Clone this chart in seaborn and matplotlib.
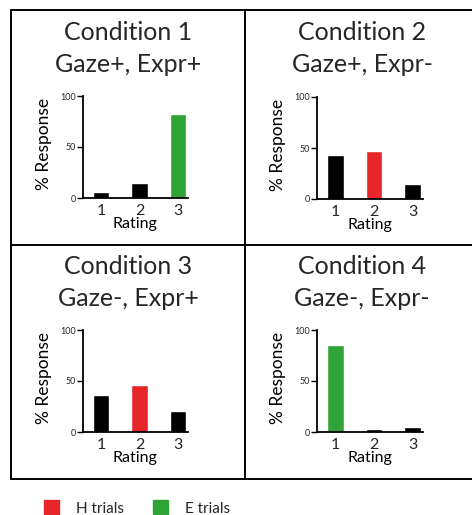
import matplotlib
matplotlib.use("Agg")
import matplotlib.pyplot as plt
import seaborn as sns
from matplotlib.patches import Patch
from matplotlib.lines import Line2D

sns.set_theme(style="white")
plt.rcParams['font.family'] = ['Lato', 'DejaVu Sans']

# data
ratings = ["1", "2", "3"]
cond_titles = ["Condition 1\nGaze+, Expr+", "Condition 2\nGaze+, Expr-",
               "Condition 3\nGaze-, Expr+", "Condition 4\nGaze-, Expr-"]
cond1 = [6, 15, 82]
cond2 = [43, 47, 15]
cond3 = [36, 46, 21]
cond4 = [85, 3, 5]
# which trial type each bar belongs to (k = other, H, E)
types1 = ["k", "k", "E"]
types2 = ["k", "H", "k"]
types3 = ["k", "H", "k"]
types4 = ["E", "k", "k"]

BLACK = "#000000"
RED = "#e6262b"
GREEN = "#2fa336"
type_colors = {"k": BLACK, "H": RED, "E": GREEN}

W, H = 472, 515
fig = plt.figure(figsize=(W / 100, H / 100), dpi=100)


def px_box(left, top, width, height):
    return [left / W, 1 - (top + height) / H, width / W, height / H]


# panel geometry in pixels: (axis left, axis top, title centre x, title top y)
panels = [
    (82.5, 96, 128, 33),
    (317, 97, 362, 33),
    (82.5, 330, 128, 267),
    (317, 330, 362, 267),
]
all_vals = [cond1, cond2, cond3, cond4]
all_types = [types1, types2, types3, types4]

for (left, top, tx, ty), title, vals, types in zip(panels, cond_titles, all_vals, all_types):
    ax = fig.add_axes(px_box(left, top, 105.5, 102))
    colors = [type_colors[t] for t in types]
    sns.barplot(x=ratings, y=vals, hue=ratings, palette=colors, legend=False,
                saturation=1, width=0.42, ax=ax)
    ax.set_xlim(-0.48, 2.26)
    ax.set_ylim(0, 100)
    ax.set_yticks([0, 50, 100])
    ax.set_facecolor("none")
    for side in ["top", "right"]:
        ax.spines[side].set_visible(False)
    for side in ["left", "bottom"]:
        ax.spines[side].set_color("black")
        ax.spines[side].set_linewidth(1.3)
    ax.tick_params(axis="y", length=4, width=1, color="black", pad=1,
                   labelsize=6.5, left=True)
    ax.tick_params(axis="x", length=0, pad=4, labelsize=11.5)
    ax.set_ylabel("% Response", fontsize=12.5, color="black")
    ax.yaxis.set_label_coords(-0.29, 0.53)
    ax.set_xlabel("Rating", fontsize=11.5, color="black")
    ax.xaxis.set_label_coords(0.5, -0.19)
    l1, l2 = title.split("\n")
    fig.text(tx / W, 1 - ty / H, l1, ha="center", va="center", fontsize=18)
    fig.text(tx / W, 1 - (ty + 32) / H, l2, ha="center", va="center", fontsize=18)

# frame around the four panels
frame_lines = [
    ([11, 472], [10, 10]), ([11, 472], [245, 245]), ([11, 472], [479, 479]),
    ([11, 11], [10, 479]), ([245, 245], [10, 479]),
]
for xs, ys in frame_lines:
    fig.add_artist(Line2D([x / W for x in xs], [1 - y / H for y in ys],
                          color="black", lw=1.4))

handles = [Patch(facecolor=RED, edgecolor=RED, label="H trials"),
           Patch(facecolor=GREEN, edgecolor=GREEN, label="E trials")]
fig.legend(handles=handles, loc="center left", bbox_to_anchor=(30 / W, 1 - 508 / H),
           ncol=2, frameon=False, fontsize=11, handlelength=1.0, handleheight=1.0,
           handletextpad=1.1, columnspacing=1.9)

fig.savefig("out.png", dpi=100, facecolor="white")
